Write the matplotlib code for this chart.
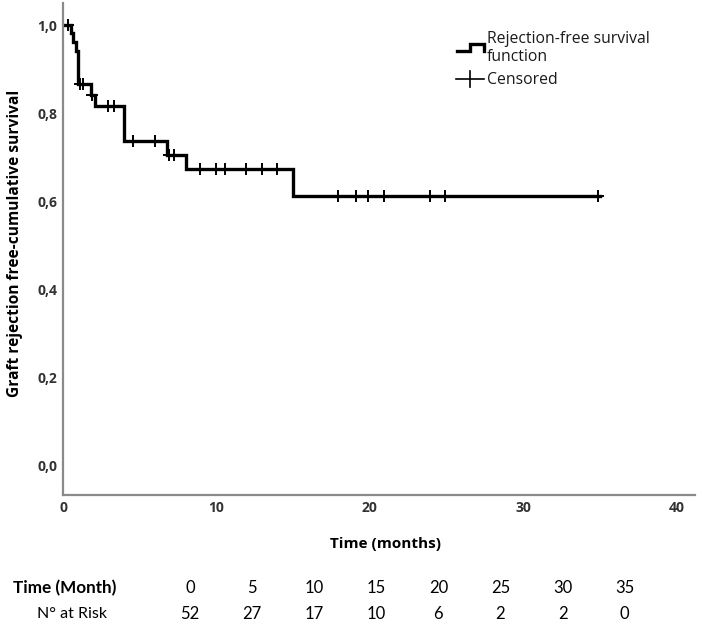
import matplotlib
matplotlib.use('Agg')
import matplotlib.pyplot as plt
import numpy as np

plt.rcParams['font.family'] = ['Open Sans', 'DejaVu Sans']

# Kaplan-Meier steps (time in months, survival after the drop)
step_times = [0, 0.5, 0.67, 0.85, 1.0, 1.8, 2.1, 3.95, 6.8, 8.0, 15.0, 35.0]
step_surv = [1.0, 0.981, 0.962, 0.942, 0.865, 0.84, 0.815, 0.737, 0.705, 0.673, 0.611, 0.611]

# censored observations
censor_times = [0.35, 1.1, 1.32, 1.9, 2.95, 3.32, 4.54, 6.0, 6.9, 7.25, 8.9, 10.0,
                10.55, 11.9, 12.95, 13.95, 17.9, 19.1, 19.9, 20.9, 23.9, 24.9, 34.9]

# number at risk table
risk_months = [0, 5, 10, 15, 20, 25, 30, 35]
at_risk = [52, 27, 17, 10, 6, 2, 2, 0]

W, H = 709, 625
fig = plt.figure(figsize=(W / 100, H / 100), dpi=100)
ax = fig.add_axes([63 / W, 1 - 495 / H, (695 - 63) / W, (495 - 3) / H])

ax.step(step_times, step_surv, where='post', color='black', lw=2.4, solid_joinstyle='miter')

# survival value at each censor time
cy = [step_surv[np.searchsorted(step_times, t, side='right') - 1] for t in censor_times]
ax.plot(censor_times, cy, linestyle='none', marker='+', ms=9, mew=1.4, color='black')

ax.set_xlim(0, 41.2)
ax.set_ylim(-0.068, 1.05)
ax.set_xticks([0, 10, 20, 30, 40])
ax.set_yticks([0, 0.2, 0.4, 0.6, 0.8, 1.0])
ax.set_yticklabels(['0,0', '0,2', '0,4', '0,6', '0,8', '1,0'])
ax.tick_params(length=0, labelsize=10, colors='#333333')
ax.tick_params(axis='x', pad=4)
ax.tick_params(axis='y', pad=4)
for lab in ax.get_xticklabels() + ax.get_yticklabels():
    lab.set_fontweight('bold')
for s in ['top', 'right']:
    ax.spines[s].set_visible(False)
for s in ['left', 'bottom']:
    ax.spines[s].set_color('#8a8a8a')
    ax.spines[s].set_linewidth(1.6)

ax.set_xlabel('Time (months)', fontsize=11, fontweight='bold')
ax.set_ylabel('Graft rejection free-cumulative survival', fontsize=11.2, fontweight='bold')
ax.xaxis.set_label_coords((386 - 63) / (695 - 63), -(537 - 495) / (495 - 3))
ax.yaxis.set_label_coords(-(63 - 23) / (695 - 63), (495 - 243) / (495 - 3))

# legend drawn by hand
def fx(px):
    return px / W

def fy(py):
    return 1 - py / H

fig.add_artist(plt.Line2D([fx(457), fx(470), fx(470), fx(484), fx(484)],
                          [fy(51), fy(51), fy(44), fy(44), fy(51)],
                          color='black', lw=2.4, solid_joinstyle='miter'))
fig.text(fx(487), fy(39), 'Rejection-free survival', fontsize=11.3, va='center', ha='left', color='#1a1a1a')
fig.text(fx(487), fy(57), 'function', fontsize=11.3, va='center', ha='left', color='#1a1a1a')
fig.add_artist(plt.Line2D([fx(456), fx(484)], [fy(79), fy(79)], color='black', lw=1.2))
fig.add_artist(plt.Line2D([fx(470), fx(470)], [fy(71), fy(87)], color='black', lw=1.2))
fig.text(fx(487), fy(80), 'Censored', fontsize=11.3, va='center', ha='left', color='#1a1a1a')

# number at risk table
tfont = ['Lato', 'DejaVu Sans']
fig.text(fx(13), fy(588), 'Time (Month)', fontsize=12.3, fontweight='bold', va='center', ha='left',
         family=tfont)
fig.text(fx(72), fy(614), 'N° at Risk', fontsize=11.5, va='center', ha='center', family=tfont)
for i, (m, n) in enumerate(zip(risk_months, at_risk)):
    x = fx(190 + i * 62.1)
    fig.text(x, fy(588), str(m), fontsize=12, va='center', ha='center', family=tfont)
    fig.text(x, fy(614), str(n), fontsize=12, va='center', ha='center', family=tfont)

fig.savefig('out.png', dpi=100, facecolor='white')
